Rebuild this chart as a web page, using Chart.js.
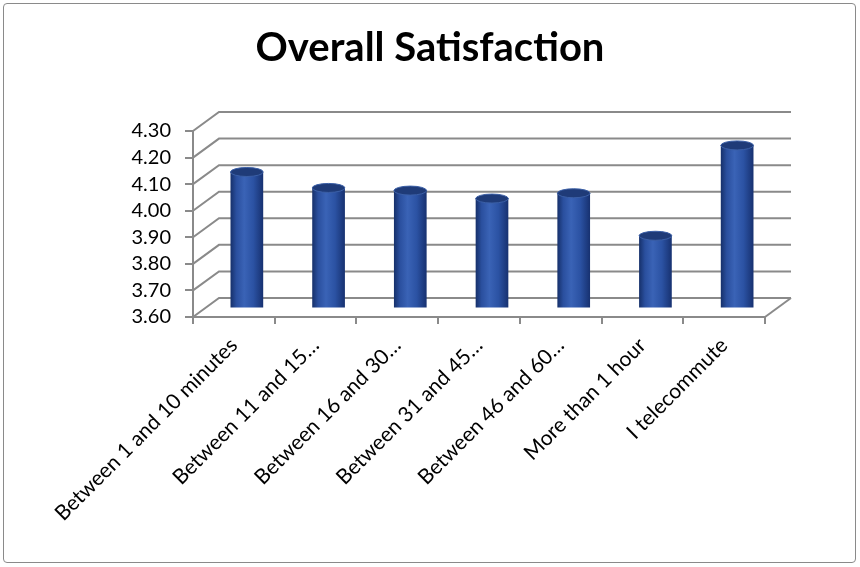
<!DOCTYPE html>
<html>
<head>
<meta charset="utf-8">
<script src="https://cdn.jsdelivr.net/npm/chart.js@4"></script>
<style>
  html, body { margin: 0; padding: 0; background: #fff; }
  #wrap { position: relative; width: 860px; height: 567px; }
  #frame { position: absolute; left: 3px; top: 3px; width: 851px; height: 558px;
           border: 1.5px solid #8a8a8a; border-radius: 4px; pointer-events: none; }
</style>
</head>
<body>
<div id="wrap">
  <canvas id="chart" width="860" height="567"></canvas>
  <div id="frame"></div>
</div>
<script>
const LABELS = [
  'Between 1 and 10 minutes',
  'Between 11 and 15…',
  'Between 16 and 30…',
  'Between 31 and 45…',
  'Between 46 and 60…',
  'More than 1 hour',
  'I telecommute',
]
const SATISFACTION = [4.11, 4.05, 4.04, 4.01, 4.03, 3.87, 4.21]
const Y_MIN = 3.6
const Y_MAX = 4.3
const Y_STEP = 0.1

// fake depth of the excel 3d look
const DEPTH_X = 26
const DEPTH_Y = -19
const GRID = '#8a8a8a'
const FONT = 'Lato, "Open Sans", sans-serif'

const barWidth = (chart) => chart.scales.x.width / LABELS.length * 0.4

const cylinderFill = (c) => {
  const chart = c.chart
  if (!chart.chartArea) return '#2f58aa'
  const x = chart.scales.x.getPixelForValue(c.dataIndex)
  const w = barWidth(chart)
  const g = chart.ctx.createLinearGradient(x - w / 2, 0, x + w / 2, 0)
  g.addColorStop(0, '#16306a')
  g.addColorStop(0.18, '#2a4f9e')
  g.addColorStop(0.42, '#3a63b6')
  g.addColorStop(0.7, '#2b52a3')
  g.addColorStop(1, '#173170')
  return g
}

const backWall = {
  id: 'backWall',
  beforeDatasetsDraw(chart) {
    const { ctx, chartArea } = chart
    const y = chart.scales.y
    ctx.save()
    ctx.strokeStyle = GRID
    ctx.lineWidth = 2
    y.ticks.forEach((t) => {
      const py = y.getPixelForValue(t.value)
      ctx.beginPath()
      ctx.moveTo(chartArea.left, py)
      ctx.lineTo(chartArea.left + DEPTH_X, py + DEPTH_Y)
      ctx.lineTo(chartArea.right + DEPTH_X, py + DEPTH_Y)
      ctx.stroke()
    })
    // floor right edge
    ctx.beginPath()
    ctx.moveTo(chartArea.right, chartArea.bottom)
    ctx.lineTo(chartArea.right + DEPTH_X, chartArea.bottom + DEPTH_Y)
    ctx.stroke()
    ctx.restore()

    // cylinders sit half way into the depth
    ctx.save()
    ctx.translate(DEPTH_X / 2, DEPTH_Y / 2)
  },
  afterDatasetsDraw(chart) {
    const { ctx } = chart
    const meta = chart.getDatasetMeta(0)
    meta.data.forEach((bar) => {
      const { x, y, base, width } = bar.getProps(['x', 'y', 'base', 'width'], true)
      const rx = width / 2
      const ry = 4.5
      ctx.beginPath()
      ctx.ellipse(x, base, rx, ry, 0, 0, Math.PI)
      ctx.fillStyle = bar.options.backgroundColor
      ctx.fill()
      ctx.beginPath()
      ctx.ellipse(x, y, rx, ry, 0, 0, Math.PI * 2)
      ctx.fillStyle = '#1f3b78'
      ctx.fill()
      ctx.strokeStyle = '#3b5fa6'
      ctx.lineWidth = 1
      ctx.stroke()
    })
    ctx.restore()
  },
}

new Chart(document.getElementById('chart'), {
  type: 'bar',
  data: {
    labels: LABELS,
    datasets: [
      {
        label: 'Overall Satisfaction',
        data: SATISFACTION,
        backgroundColor: cylinderFill,
        borderWidth: 0,
        barPercentage: 0.4,
        categoryPercentage: 1,
      },
    ],
  },
  options: {
    responsive: false,
    animation: false,
    layout: { padding: 0 },
    plugins: {
      legend: { display: false },
      tooltip: { enabled: false },
      title: {
        display: true,
        text: 'Overall Satisfaction',
        color: '#000',
        font: { family: FONT, size: 40, weight: 'bold' },
        padding: { top: 24, bottom: 59 },
      },
    },
    scales: {
      x: {
        grid: { display: true, offset: true, drawOnChartArea: false, tickLength: 7, color: GRID, lineWidth: 2 },
        border: { display: true, color: GRID, width: 2 },
        ticks: {
          color: '#000',
          font: { family: FONT, size: 21 },
          maxRotation: 45,
          minRotation: 45,
          padding: 9,
          autoSkip: false,
        },
        afterFit(scale) { scale.height = 250 },
      },
      y: {
        min: Y_MIN,
        max: Y_MAX,
        grid: { drawOnChartArea: false, tickLength: 8, color: GRID, lineWidth: 2 },
        border: { display: true, color: GRID, width: 2 },
        ticks: {
          stepSize: Y_STEP,
          autoSkip: false,
          color: '#000',
          font: { family: FONT, size: 20 },
          padding: 14,
          callback: (v) => v.toFixed(2),
        },
        afterFit(scale) { scale.width = 193 },
      },
      // empty right axis, only keeps room for the depth of the wall
      spare: {
        position: 'right',
        grid: { display: false },
        border: { display: false },
        ticks: { display: false },
        afterFit(scale) { scale.width = 95 },
      },
    },
  },
  plugins: [backWall],
})
</script>
</body>
</html>
